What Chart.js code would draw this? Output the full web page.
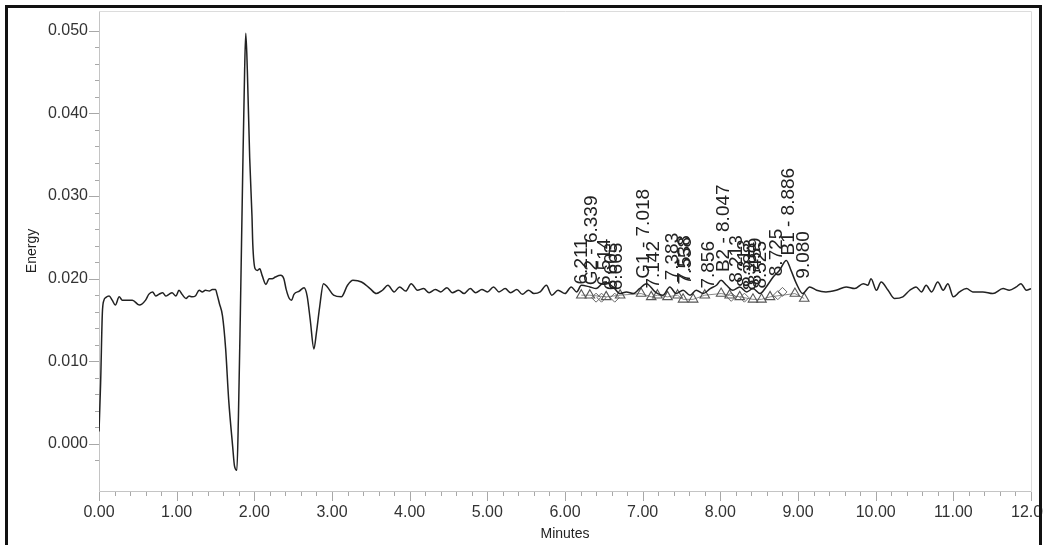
<!DOCTYPE html>
<html>
<head>
<meta charset="utf-8">
<script src="https://cdn.jsdelivr.net/npm/chart.js@4.4.0/dist/chart.umd.min.js"></script>
<style>
body{margin:0;background:#fff;}
#wrap{position:absolute;left:0;top:0;width:1043px;height:545px;}
#frame{position:absolute;left:5px;top:5px;width:1031px;height:545px;border:3px solid #111;border-bottom:none;pointer-events:none;}
</style>
</head>
<body>
<div id="wrap"><canvas id="chart" width="1043" height="545"></canvas></div>
<div id="frame"></div>
<script>
// detector trace (minutes / energy)
const times=[0,0.021,0.043,0.064,0.086,0.13,0.17,0.21,0.26,0.30,0.34,0.43,0.52,0.60,0.64,0.69,0.73,0.77,0.82,0.86,0.90,0.94,0.99,1.03,1.07,1.12,1.16,1.20,1.24,1.29,1.33,1.37,1.42,1.46,1.50,1.52,1.55,1.59,1.63,1.67,1.72,1.745,1.775,1.795,1.82,1.85,1.875,1.89,1.91,1.94,1.97,1.98,2.01,2.04,2.07,2.10,2.15,2.19,2.23,2.27,2.34,2.38,2.41,2.45,2.48,2.51,2.58,2.64,2.68,2.72,2.767,2.80,2.84,2.89,2.94,3.02,3.12,3.20,3.27,3.38,3.49,3.57,
3.65,3.72,3.80,3.87,3.95,4.02,4.10,4.18,4.25,4.33,4.40,4.48,4.55,4.63,4.70,4.78,4.85,4.93,5.00,5.08,5.15,5.23,5.30,5.38,5.45,5.53,5.60,
5.68,5.76,5.83,5.91,6.00,6.08,6.15,6.21,6.32,6.40,6.51,6.62,6.71,6.79,6.88,6.96,7.05,7.16,7.26,7.35,7.43,7.52,7.61,7.69,7.78,7.87,7.95,8.01,8.08,8.16,8.25,8.34,8.42,8.51,8.59,8.68,8.76,8.85,8.91,8.98,9.06,
9.15,9.24,9.36,9.49,9.62,9.73,9.84,9.90,9.94,10.01,10.07,10.16,10.24,10.35,10.44,10.52,10.59,10.65,10.72,10.80,10.87,10.93,11.00,11.08,11.17,11.25,11.38,11.51,11.64,11.72,11.81,11.87,11.94,12.0];
const energy=[0.0015,0.0074,0.0158,0.0174,0.0177,0.0179,0.0174,0.0168,0.0178,0.0174,0.0174,0.0174,0.0168,0.0174,0.0181,0.0184,0.0179,0.0181,0.0183,0.0179,0.0181,0.0183,0.0179,0.0186,0.0181,0.0176,0.0179,0.0178,0.0179,0.0186,0.0184,0.0186,0.0185,0.0187,0.0187,0.0181,0.0170,0.0155,0.0116,0.0053,-0.0002,-0.0027,-0.0032,0.0032,0.0158,0.0326,0.0452,0.0497,0.0452,0.0347,0.0275,0.0242,0.0212,0.0210,0.0212,0.0204,0.0193,0.0200,0.0200,0.0202,0.0204,0.0200,0.0187,0.0176,0.0174,0.0181,0.0185,0.0189,0.0179,0.0150,0.0115,0.0135,0.0165,0.0194,0.0190,0.0180,0.0178,0.0192,0.0198,0.0196,0.0188,0.0182,
0.0186,0.0192,0.0184,0.0190,0.0185,0.0194,0.0186,0.0188,0.0183,0.0187,0.0184,0.0189,0.0183,0.0186,0.0182,0.0188,0.0183,0.0187,0.0184,0.0190,0.0184,0.0188,0.0183,0.0187,0.0181,0.0186,0.0182,
0.0184,0.0192,0.0180,0.0186,0.0182,0.0190,0.0184,0.0192,0.0190,0.0188,0.0196,0.0190,0.0182,0.0184,0.0182,0.0188,0.0194,0.0184,0.0180,0.0190,0.0182,0.0186,0.0180,0.0186,0.0182,0.0188,0.0192,0.0198,0.0192,0.0186,0.0190,0.0184,0.0188,0.0182,0.0190,0.0202,0.0210,0.0222,0.0210,0.0194,0.0182,
0.0190,0.0186,0.0184,0.0186,0.0190,0.0188,0.0194,0.0192,0.0200,0.0186,0.0196,0.0186,0.0176,0.0178,0.0186,0.0190,0.0184,0.0192,0.0184,0.0196,0.0186,0.0194,0.0178,0.0184,0.0188,0.0184,0.0184,0.0182,0.0188,0.0186,0.0190,0.0194,0.0186,0.0188];

// integration markers
const triTimes=[6.21,6.32,6.53,6.71,6.98,7.11,7.19,7.32,7.45,7.52,7.65,7.80,8.01,8.12,8.25,8.42,8.53,8.64,8.96,9.08];
const triEnergy=[0.0180,0.0180,0.0178,0.0180,0.0182,0.0178,0.0180,0.0178,0.0180,0.0175,0.0175,0.0180,0.0182,0.0180,0.0178,0.0175,0.0175,0.0178,0.0182,0.0176];
const dmdTimes=[6.40,6.47,6.64,8.14,8.31,8.74,8.80];
const dmdEnergy=[0.0177,0.0177,0.0177,0.0178,0.0177,0.0180,0.0184];

// peak names, and the level each name starts from
const peakNames=['6.211','G2 - 6.339','6.514','6.603','6.665','G1 - 7.018','7.142','7.383','7.538','7.558','7.856','B2 - 8.047','8.213','8.313','8.388','8.459','8.525','8.725','B1 - 8.886','9.080'];
const peakTimes=[6.211,6.339,6.514,6.603,6.665,7.018,7.142,7.383,7.538,7.558,7.856,8.047,8.213,8.313,8.388,8.459,8.525,8.725,8.886,9.080];
const peakHeights=[0.0193,0.0192,0.0191,0.0186,0.0186,0.0200,0.0188,0.0198,0.0195,0.0193,0.0188,0.0208,0.0195,0.0190,0.0186,0.0192,0.0188,0.0203,0.0228,0.0200];

const pts=(xs,ys)=>xs.map((x,i)=>({x:x,y:ys[i]}));
const isStep=(v,s)=>Math.abs(v/s-Math.round(v/s))<1e-6;
const FONT='"Liberation Sans", Arial, sans-serif';

const axisDeco={
  id:'axisDeco',
  beforeDatasetsDraw(chart){
    const c=chart.ctx, a=chart.chartArea, xs=chart.scales.x, ys=chart.scales.y;
    c.save();
    c.strokeStyle='#c4c4c4'; c.lineWidth=1;
    c.beginPath();
    c.moveTo(a.left+0.5,a.bottom+0.5); c.lineTo(a.right+0.5,a.bottom+0.5);
    c.moveTo(a.left+0.5,a.top+0.5); c.lineTo(a.left+0.5,a.bottom+0.5);
    c.stroke();
    c.strokeStyle='#dcdcdc';
    c.beginPath();
    c.moveTo(a.left,a.top+0.5); c.lineTo(a.right+0.5,a.top+0.5); c.lineTo(a.right+0.5,a.bottom);
    c.stroke();
    c.strokeStyle='#a8a8a8';
    c.beginPath();
    xs.ticks.forEach(t=>{
      const px=Math.round(xs.getPixelForValue(t.value))+0.5;
      const len=isStep(t.value,1)?9:4;
      c.moveTo(px,a.bottom+1); c.lineTo(px,a.bottom+1+len);
    });
    ys.ticks.forEach(t=>{
      if(!isStep(t.value,0.002))return;
      const py=Math.round(ys.getPixelForValue(t.value))+0.5;
      const len=isStep(t.value,0.01)?10:4;
      c.moveTo(a.left,py); c.lineTo(a.left-len,py);
    });
    c.stroke();
    c.restore();
  },
  afterDatasetsDraw(chart){
    const c=chart.ctx, xs=chart.scales.x, ys=chart.scales.y;
    c.save();
    c.fillStyle='#222';
    c.font='19px '+FONT;
    c.textAlign='left'; c.textBaseline='middle';
    peakNames.forEach((n,i)=>{
      const px=xs.getPixelForValue(peakTimes[i]);
      const py=ys.getPixelForValue(peakHeights[i]);
      c.save();
      c.translate(px,py);
      c.rotate(-Math.PI/2);
      c.fillText(n,0,0);
      c.restore();
    });
    c.restore();
  }
};

new Chart(document.getElementById('chart'),{
  type:'line',
  data:{
    datasets:[
      {data:pts(triTimes,triEnergy),showLine:true,borderColor:'#8a8a8a',borderWidth:1,pointStyle:'triangle',pointRadius:5.5,pointBorderColor:'#555',pointBackgroundColor:'rgba(255,255,255,0)',pointBorderWidth:1.1,order:3},
      {data:pts(dmdTimes,dmdEnergy),showLine:false,pointStyle:'rectRot',pointRadius:4.5,pointBorderColor:'#666',pointBackgroundColor:'rgba(255,255,255,0)',pointBorderWidth:1,order:2},
      {data:pts(times,energy),borderColor:'#222',borderWidth:1.5,pointRadius:0,cubicInterpolationMode:'monotone',order:1}
    ]
  },
  options:{
    responsive:false,
    animation:false,
    events:[],
    layout:{padding:{top:11,right:12,left:0,bottom:0}},
    plugins:{legend:{display:false},tooltip:{enabled:false}},
    scales:{
      x:{
        type:'linear',min:0,max:12,
        afterFit(s){s.height=54;s.paddingLeft=0;s.paddingRight=0;},
        grid:{display:false,drawTicks:false},
        border:{display:false},
        ticks:{stepSize:0.2,autoSkip:false,maxRotation:0,padding:12,color:'#333',
          font:{size:16,family:FONT},
          callback:v=>isStep(v,1)?v.toFixed(2):''},
        title:{display:true,text:'Minutes',color:'#222',font:{size:14,family:FONT},padding:{top:0,bottom:2}}
      },
      y:{
        type:'linear',min:-0.0057,max:0.0524,
        afterFit(s){s.width=99;s.paddingTop=0;s.paddingBottom=0;},
        grid:{display:false,drawTicks:false},
        border:{display:false},
        ticks:{stepSize:0.002,autoSkip:false,padding:11,color:'#333',
          font:{size:16,family:FONT},
          callback:v=>isStep(v,0.01)?v.toFixed(3):''},
        title:{display:true,text:'Energy',color:'#222',font:{size:14,family:FONT},padding:{top:24,bottom:0}}
      }
    }
  },
  plugins:[axisDeco]
});
</script>
</body>
</html>
